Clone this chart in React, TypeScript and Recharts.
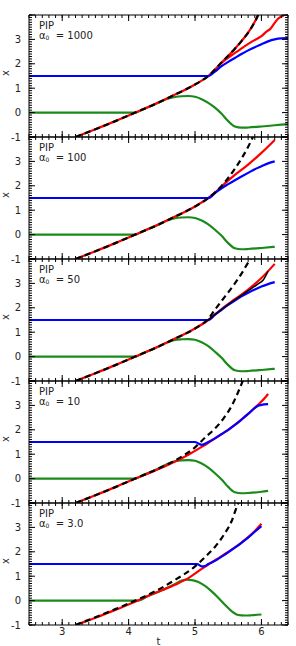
import React from "react";
import { LineChart, Line, XAxis, YAxis } from "recharts";

type Pt = { t: number; v: number };
const pts = (a: number[][]): Pt[] => a.map(([t, v]) => ({ t, v }));

// shared axis bits
const tLabels = [3, 4, 5, 6];
const xLabels = [-1, 0, 1, 2, 3];
const yMajor = [-1, 0, 1, 2, 3, 4];
const tMinor = Array.from({ length: 40 }, (_, i) => +(2.5 + i * 0.1).toFixed(1));
const yMinor = Array.from({ length: 51 }, (_, i) => +(-1 + i * 0.1).toFixed(1));

const alphas = ["1000", "100", "50", "10", "3.0"];

// panel 1 (alpha0 = 1000)
const dashed1 = pts([[3.2, -1], [3.5, -0.68], [3.8, -0.35], [4.1, 0], [4.4, 0.35], [4.7, 0.74], [5.0, 1.15], [5.2, 1.5], [5.4, 2.05], [5.6, 2.62], [5.7, 2.93], [5.8, 3.28], [5.9, 3.72], [6.0, 4.3]]);
const red1 = pts([[3.2, -1], [3.5, -0.68], [3.8, -0.35], [4.1, 0], [4.4, 0.35], [4.7, 0.74], [5.0, 1.15], [5.2, 1.5], [5.4, 2.05], [5.6, 2.62], [5.7, 2.93], [5.8, 3.28], [5.9, 3.72], [6.0, 4.3]]);
const red1b = pts([[5.35, 1.93], [5.45, 2.15], [5.55, 2.35], [5.7, 2.63], [5.85, 2.9], [6.0, 3.13], [6.08, 3.33], [6.13, 3.42], [6.2, 3.68], [6.25, 3.85], [6.33, 3.98], [6.4, 4.1]]);
const blue1 = pts([[2.5, 1.5], [5.2, 1.5], [5.3, 1.68], [5.4, 1.9], [5.5, 2.08], [5.6, 2.24], [5.7, 2.4], [5.8, 2.55], [5.9, 2.68], [6.0, 2.8], [6.1, 2.92], [6.2, 3.0], [6.3, 3.04], [6.4, 3.05]]);
const green1 = pts([[2.5, 0], [4.1, 0], [4.2, 0.12], [4.4, 0.35], [4.6, 0.58], [4.7, 0.64], [4.8, 0.67], [4.9, 0.68], [5.0, 0.65], [5.1, 0.55], [5.2, 0.4], [5.3, 0.2], [5.4, -0.05], [5.5, -0.35], [5.6, -0.57], [5.7, -0.62], [5.8, -0.61], [6.0, -0.57], [6.2, -0.52], [6.4, -0.47]]);

// panel 2 (alpha0 = 100)
const dashed2 = pts([[3.2, -1], [3.5, -0.68], [3.8, -0.35], [4.1, 0], [4.4, 0.35], [4.7, 0.74], [5.0, 1.15], [5.2, 1.5], [5.4, 1.99], [5.6, 2.7], [5.8, 3.6], [5.88, 4.05]]);
const red2 = pts([[3.2, -1], [3.5, -0.68], [3.8, -0.35], [4.1, 0], [4.4, 0.35], [4.7, 0.74], [5.0, 1.15], [5.2, 1.5], [5.3, 1.72], [5.45, 2.1], [5.6, 2.45], [5.8, 2.87], [6.0, 3.35], [6.2, 3.88]]);
const blue2 = pts([[2.5, 1.5], [5.2, 1.5], [5.3, 1.7], [5.4, 1.9], [5.5, 2.07], [5.6, 2.23], [5.7, 2.38], [5.8, 2.53], [5.9, 2.68], [6.0, 2.8], [6.1, 2.92], [6.2, 3.0]]);
const green2 = pts([[2.5, 0], [4.1, 0], [4.2, 0.12], [4.4, 0.35], [4.6, 0.6], [4.7, 0.67], [4.8, 0.7], [4.9, 0.71], [5.0, 0.68], [5.1, 0.58], [5.2, 0.42], [5.3, 0.2], [5.4, -0.05], [5.5, -0.35], [5.6, -0.56], [5.7, -0.6], [5.8, -0.59], [6.0, -0.55], [6.2, -0.5]]);

// panel 3 (alpha0 = 50)
const dashed3 = pts([[3.2, -1], [3.5, -0.68], [3.8, -0.35], [4.1, 0], [4.4, 0.35], [4.7, 0.74], [5.0, 1.15], [5.2, 1.55], [5.3, 1.92], [5.4, 2.28], [5.5, 2.63], [5.6, 3.0], [5.7, 3.4], [5.8, 3.85], [5.85, 4.05]]);
const red3 = pts([[3.2, -1], [3.5, -0.68], [3.8, -0.35], [4.1, 0], [4.4, 0.35], [4.7, 0.74], [5.0, 1.15], [5.2, 1.5], [5.4, 1.95], [5.6, 2.35], [5.8, 2.75], [6.0, 3.22], [6.2, 3.8]]);
const black3 = pts([[5.2, 1.5], [5.4, 1.93], [5.6, 2.33], [5.8, 2.7], [5.95, 2.98], [6.03, 3.15], [6.1, 3.5]]);
const blue3 = pts([[2.5, 1.5], [5.2, 1.5], [5.3, 1.72], [5.4, 1.92], [5.5, 2.12], [5.6, 2.3], [5.7, 2.47], [5.8, 2.62], [5.9, 2.75], [6.0, 2.87], [6.1, 2.97], [6.2, 3.05]]);
const green3 = pts([[2.5, 0], [4.1, 0], [4.2, 0.12], [4.4, 0.35], [4.6, 0.6], [4.7, 0.68], [4.8, 0.71], [4.9, 0.72], [5.0, 0.69], [5.1, 0.59], [5.2, 0.43], [5.3, 0.2], [5.4, -0.05], [5.5, -0.35], [5.6, -0.56], [5.7, -0.6], [5.8, -0.59], [6.0, -0.55], [6.2, -0.5]]);

// panel 4 (alpha0 = 10)
const dashed4 = pts([[3.2, -1], [3.5, -0.68], [3.8, -0.35], [4.1, 0], [4.4, 0.35], [4.6, 0.6], [4.8, 0.9], [5.0, 1.28], [5.15, 1.68], [5.3, 2.05], [5.43, 2.47], [5.55, 2.97], [5.65, 3.55], [5.73, 4.08]]);
const red4 = pts([[3.2, -1], [3.5, -0.68], [3.8, -0.35], [4.1, 0], [4.4, 0.33], [4.7, 0.7], [4.9, 0.98], [5.1, 1.3], [5.2, 1.47], [5.3, 1.65], [5.4, 1.82], [5.5, 2.0], [5.6, 2.2], [5.7, 2.42], [5.8, 2.65], [5.9, 2.9], [5.97, 3.08], [6.05, 3.3], [6.1, 3.47]]);
const blue4 = pts([[2.5, 1.5], [5.0, 1.5], [5.05, 1.44], [5.1, 1.38], [5.2, 1.5], [5.3, 1.65], [5.4, 1.82], [5.5, 2.0], [5.6, 2.2], [5.7, 2.42], [5.8, 2.65], [5.9, 2.9], [5.95, 2.99], [6.0, 3.02], [6.1, 3.05]]);
const green4 = pts([[2.5, 0], [4.1, 0], [4.2, 0.12], [4.4, 0.35], [4.6, 0.62], [4.7, 0.71], [4.8, 0.75], [4.9, 0.76], [5.0, 0.73], [5.1, 0.62], [5.2, 0.45], [5.3, 0.22], [5.4, -0.04], [5.5, -0.34], [5.6, -0.56], [5.7, -0.6], [5.8, -0.59], [6.0, -0.54], [6.1, -0.5]]);

// panel 5 (alpha0 = 3.0)
const dashed5 = pts([[3.2, -1], [3.5, -0.68], [3.8, -0.35], [4.1, 0], [4.4, 0.38], [4.7, 0.85], [5.0, 1.4], [5.18, 1.86], [5.3, 2.2], [5.43, 2.68], [5.55, 3.25], [5.63, 3.85], [5.67, 4.1]]);
const red5 = pts([[3.2, -1], [3.5, -0.7], [3.8, -0.38], [4.14, 0], [4.3, 0.2], [4.5, 0.42], [4.7, 0.65], [4.9, 0.92], [5.1, 1.3], [5.2, 1.48], [5.3, 1.65], [5.4, 1.82], [5.5, 2.0], [5.6, 2.18], [5.7, 2.38], [5.8, 2.6], [5.9, 2.85], [6.0, 3.15]]);
const blue5 = pts([[2.5, 1.5], [5.03, 1.5], [5.1, 1.4], [5.15, 1.42], [5.2, 1.5], [5.3, 1.63], [5.4, 1.8], [5.5, 1.98], [5.6, 2.17], [5.7, 2.37], [5.8, 2.58], [5.9, 2.82], [6.0, 3.05]]);
const green5 = pts([[2.5, 0], [4.14, 0], [4.3, 0.2], [4.5, 0.42], [4.7, 0.68], [4.8, 0.82], [4.87, 0.86], [4.95, 0.84], [5.05, 0.76], [5.15, 0.6], [5.25, 0.38], [5.35, 0.12], [5.45, -0.17], [5.55, -0.43], [5.65, -0.59], [5.75, -0.61], [5.85, -0.6], [6.0, -0.57]]);

const RED = "#f00";
const BLUE = "#00f";
const GREEN = "#1a8a1a";
const FONT = "'DejaVu Sans', sans-serif";
const W = 296;
const PLOT_H = 122;
const TOP0 = 15;
const THIN = 0.01; // mirrored tick-only axes take no room

const Empty = () => <g />;

type PanelProps = {
  idx: number;
  dashed: Pt[];
  red: Pt[];
  blue: Pt[];
  green: Pt[];
  redB?: Pt[];
  black?: Pt[];
};

function Panel({ idx, dashed, red, blue, green, redB, black }: PanelProps) {
  const last = idx === 4;
  const top = TOP0 + PLOT_H * idx;
  const h = last ? 646 - (top - 8) : PLOT_H + 16;
  const common = { type: "number" as const, domain: [2.5, 6.4], allowDataOverflow: true };
  const ycommon = { type: "number" as const, domain: [-1, 4], allowDataOverflow: true };
  const lineProps = { xAxisId: "m", yAxisId: "m", dataKey: "v", dot: false, isAnimationActive: false, type: "monotone" as const, strokeWidth: 2.2 };
  const tl = { stroke: "#000" };
  return (
    <div style={{ position: "absolute", left: 0, top: top - 8, width: W, height: h }}>
      <LineChart width={W} height={h} margin={{ top: 8, right: 8, bottom: last ? 0 : 8, left: 0 }}>
        <XAxis
          xAxisId="m"
          dataKey="t"
          {...common}
          ticks={tLabels}
          interval={0}
          tick={last ? { fill: "#222", fontSize: 10, fontFamily: FONT } : Empty}
          tickLine={false}
          tickSize={0}
          tickMargin={3}
          height={last ? 21 : THIN}
          axisLine={tl}
          label={last ? { value: "t", position: "insideBottom", offset: 1, fill: "#222", fontSize: 10, fontFamily: FONT } : undefined}
        />
        <XAxis xAxisId="bMin" dataKey="t" {...common} mirror height={THIN} ticks={tMinor} interval={0} tick={Empty} tickSize={3} axisLine={false} tickLine={tl} />
        <XAxis xAxisId="bMaj" dataKey="t" {...common} mirror height={THIN} ticks={tLabels} interval={0} tick={Empty} tickSize={6} axisLine={false} tickLine={tl} />
        <XAxis xAxisId="tMin" dataKey="t" {...common} orientation="top" mirror height={THIN} ticks={tMinor} interval={0} tick={Empty} tickSize={3} axisLine={tl} tickLine={tl} />
        <XAxis xAxisId="tMaj" dataKey="t" {...common} orientation="top" mirror height={THIN} ticks={tLabels} interval={0} tick={Empty} tickSize={6} axisLine={false} tickLine={tl} />
        <YAxis
          yAxisId="m"
          {...ycommon}
          ticks={xLabels}
          interval={0}
          width={29}
          tick={{ fill: "#222", fontSize: 10, fontFamily: FONT }}
          tickLine={false}
          tickSize={0}
          tickMargin={8}
          axisLine={tl}
          label={{ value: "x", angle: -90, position: "insideLeft", offset: 5, fill: "#222", fontSize: 10, fontFamily: FONT }}
        />
        <YAxis yAxisId="lMin" {...ycommon} mirror width={THIN} ticks={yMinor} interval={0} tick={Empty} tickSize={3} axisLine={false} tickLine={tl} />
        <YAxis yAxisId="lMaj" {...ycommon} mirror width={THIN} ticks={yMajor} interval={0} tick={Empty} tickSize={6} axisLine={false} tickLine={tl} />
        <YAxis yAxisId="rMin" {...ycommon} orientation="right" mirror width={THIN} ticks={yMinor} interval={0} tick={Empty} tickSize={3} axisLine={tl} tickLine={tl} />
        <YAxis yAxisId="rMaj" {...ycommon} orientation="right" mirror width={THIN} ticks={yMajor} interval={0} tick={Empty} tickSize={6} axisLine={false} tickLine={tl} />

        <Line {...lineProps} data={green} stroke={GREEN} />
        <Line {...lineProps} data={red} stroke={RED} />
        {redB && <Line {...lineProps} data={redB} stroke={RED} />}
        <Line {...lineProps} data={blue} stroke={BLUE} />
        {black && <Line {...lineProps} data={black} stroke="#000" strokeWidth={1.5} />}
        <Line {...lineProps} data={dashed} stroke="#000" strokeDasharray="6 4" />
      </LineChart>
      <div style={{ position: "absolute", left: 39, top: 14, fontFamily: FONT, fontSize: 10, lineHeight: "10px", color: "#222" }}>
        <div>PIP</div>
        <div>
          α<sub style={{ fontSize: 6, verticalAlign: "-1px" }}>0</sub>&nbsp;&nbsp;= {alphas[idx]}
        </div>
      </div>
    </div>
  );
}

export default function App() {
  return (
    <div style={{ position: "fixed", left: 0, top: 0, width: W, height: 646, background: "#fff" }}>
      <Panel idx={0} dashed={dashed1} red={red1} redB={red1b} blue={blue1} green={green1} />
      <Panel idx={1} dashed={dashed2} red={red2} blue={blue2} green={green2} />
      <Panel idx={2} dashed={dashed3} red={red3} blue={blue3} green={green3} black={black3} />
      <Panel idx={3} dashed={dashed4} red={red4} blue={blue4} green={green4} />
      <Panel idx={4} dashed={dashed5} red={red5} blue={blue5} green={green5} />
    </div>
  );
}
